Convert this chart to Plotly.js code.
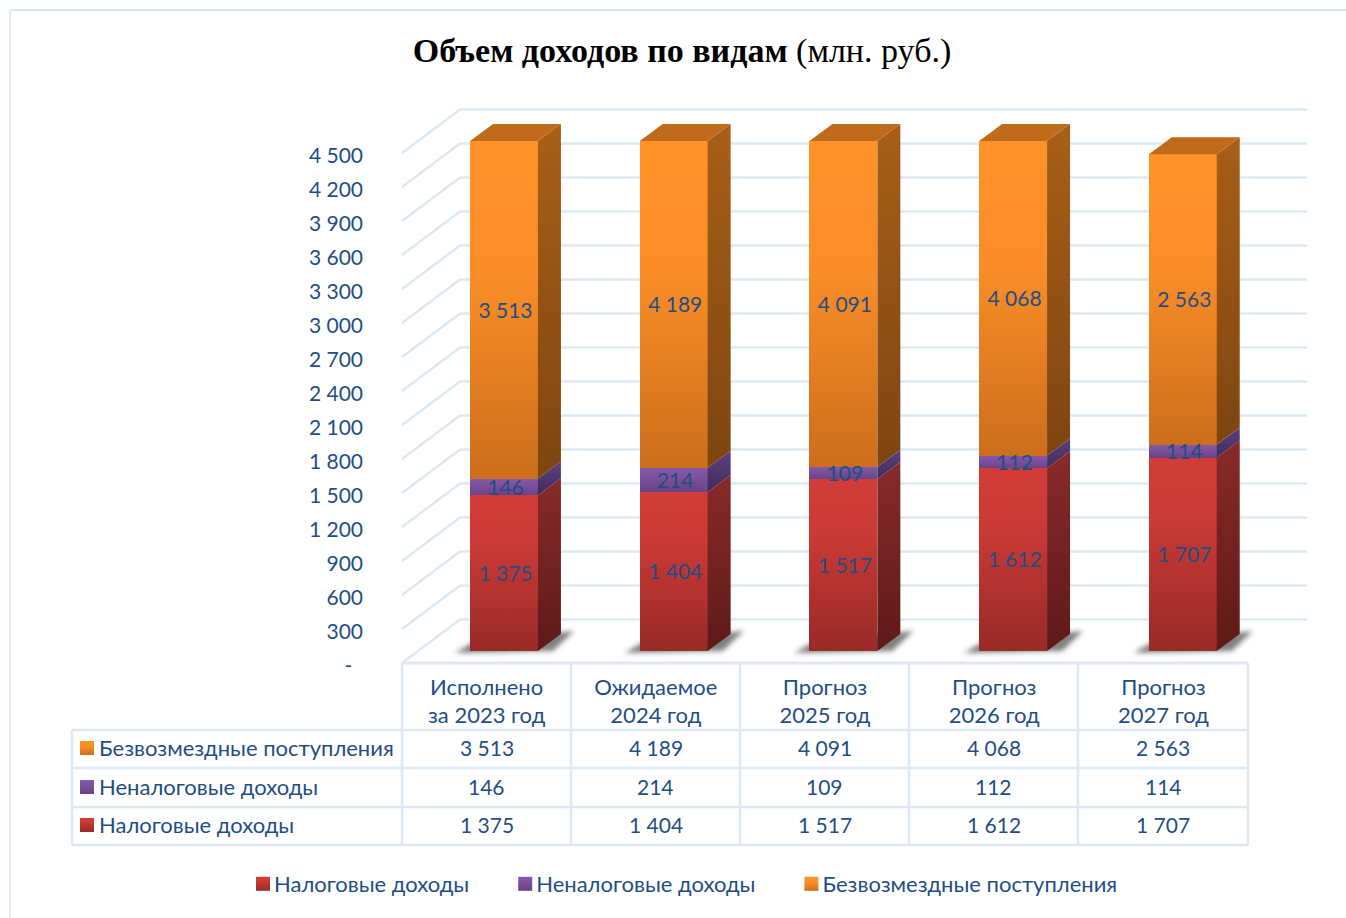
<!DOCTYPE html>
<html>
<head>
<meta charset="utf-8">
<script src="https://cdn.plot.ly/plotly-3.0.1.min.js"></script>
<style>html,body{margin:0;padding:0;background:#fff;overflow:hidden}</style>
</head>
<body>
<div id="chart" style="width:1346px;height:918px"></div>
<svg width="0" height="0" style="position:absolute"><defs id="defs">
<filter id="soft" x="-30%" y="-60%" width="160%" height="220%"><feGaussianBlur stdDeviation="2.6"/></filter>
</defs></svg>
<script>
const CATEGORIES = ['Исполнено<br>за 2023 год','Ожидаемое<br>2024 год','Прогноз<br>2025 год','Прогноз<br>2026 год','Прогноз<br>2027 год'];
const TAX = [1375,1404,1517,1612,1707];
const NONTAX = [146,214,109,112,114];
const GRANTS = [3513,4189,4091,4068,2563];
const NAME_TAX = 'Налоговые доходы';
const NAME_NONTAX = 'Неналоговые доходы';
const NAME_GRANTS = 'Безвозмездные поступления';
const Y_TICKS = [0,300,600,900,1200,1500,1800,2100,2400,2700,3000,3300,3600,3900,4200,4500];
const Y_MAX = 4500;

const W=1346,H=918;
const FONT='Lato, "Noto Sans", sans-serif', TXT='#1F4E84', GRID='#DDE8F5';
const fs=22, fn=21;
const fmt=v=>String(v).replace(/\B(?=(\d{3})+$)/g,' ');
const px=x=>x/W, py=y=>1-y/H;
// scale of the drawing
const SX=169.7, SY=510/Y_MAX, BAR_C0=504, BASE=651;
const DX=23/SX, DY=17/SY, BW=0.4;
const xr=[(402-BAR_C0)/SX,(1307-BAR_C0)/SX];
const y3r=[(BASE-663)/SY,(BASE-110)/SY];
const ofsX=p=>p/SX, ofsY=p=>p/SY;

const SERIES=[
 {name:NAME_TAX,vals:TAX,stops:[[0,'#D23C38'],[.3,'#CB3A36'],[1,'#982A28']],side:[[0,'#882A2A'],[1,'#5E1A18']]},
 {name:NAME_NONTAX,vals:NONTAX,stops:[[0,'#8759AC'],[1,'#694386']],side:[[0,'#5F4180'],[1,'#3E2A58']]},
 {name:NAME_GRANTS,vals:GRANTS,stops:[[0,'#FF9228'],[.4,'#FA8D27'],[1,'#CC6E1C']],side:[[0,'#A85F18'],[1,'#7E4510']]}
];

const traces=[];
// bars: real values, clipped by the axis maximum as in the original
SERIES.forEach(s=>traces.push({type:'bar',name:s.name,x:CATEGORIES,y:s.vals,width:BW,xaxis:'x',yaxis:'y',
  marker:{color:s.stops[0][1],line:{width:0}},hoverinfo:'skip'}));

// axis carrier for labelled front plane
traces.push({type:'scatter',mode:'markers',x:CATEGORIES,y:TAX,xaxis:'x2',yaxis:'y2',marker:{opacity:0},showlegend:false,hoverinfo:'skip'});

// depth faces and data labels
const lblX=[],lblY=[],lblT=[];
CATEGORIES.forEach((c,i)=>{
  let cum=0; const x0=i-BW/2,x1=i+BW/2;
  SERIES.forEach(s=>{
    const a=Math.min(cum,Y_MAX), b=Math.min(cum+s.vals[i],Y_MAX); cum+=s.vals[i];
    traces.push({type:'scatter',mode:'none',x:[x1,x1+DX,x1+DX,x1,x1],y:[a,a+DY,b+DY,b,a],xaxis:'x3',yaxis:'y3',fill:'toself',
      fillcolor:s.side[0][1],fillgradient:{type:'vertical',colorscale:[[0,s.side[1][1]],[1,s.side[0][1]]]},showlegend:false,hoverinfo:'skip'});
    lblX.push(i+ofsX(1.5)); lblY.push((a+b)/2-ofsY(2.5)); lblT.push(fmt(s.vals[i]));
  });
  const t=Math.min(cum,Y_MAX);
  traces.push({type:'scatter',mode:'none',x:[x0,x1,x1+DX,x0+DX,x0],y:[t,t,t+DY,t+DY,t],xaxis:'x3',yaxis:'y3',fill:'toself',fillcolor:'#C06A1B',showlegend:false,hoverinfo:'skip'});
});
traces.push({type:'scatter',mode:'text',x:lblX,y:lblY,text:lblT,textposition:'middle center',textfont:{family:FONT,size:fn,color:TXT},xaxis:'x3',yaxis:'y3',showlegend:false,hoverinfo:'skip'});

// shapes
const shapes=[], ann=[];
const line=(x0,y0,x1,y1,w,c)=>shapes.push({type:'line',xref:'paper',yref:'paper',x0:px(x0),y0:py(y0),x1:px(x1),y1:py(y1),layer:'below',line:{color:c||GRID,width:w||2.5}});
// page frame
line(10,10,1346,10,2,'#D6E3F3'); line(10,10,10,918,2,'#E1EBF7');
// walls
Y_TICKS.forEach(v=>{
  const f=663-v*SY, b=f-43.5;
  line(402,f,460,b); line(460,b,1307,b);
});
// table
const colX=[402,571,740,909,1078,1248], rowY=[730,768,807,845];
line(402,663,1248,663,3);
colX.forEach(x=>line(x,663,x,845,2.5));
line(72,730,72,845,2.5);
rowY.forEach(y=>line(72,y,1248,y,2.5));
// table rows
const ROWS=[SERIES[2],SERIES[1],SERIES[0]], rowC=[748,787,825], rowT=[747,786,824];
const gradShapes=[];
ROWS.forEach((s,r)=>{
  gradShapes.push({idx:shapes.length,stops:s.stops});
  shapes.push({type:'rect',xref:'paper',yref:'paper',x0:px(80),x1:px(94),y0:py(rowC[r]-7),y1:py(rowC[r]+7),fillcolor:s.stops[0][1],line:{width:0},layer:'above'});
  ann.push({xref:'paper',yref:'paper',x:px(97),y:py(rowT[r]),xanchor:'left',yanchor:'middle',text:s.name,showarrow:false,font:{family:FONT,size:fs,color:TXT}});
  s.vals.forEach((v,i)=>ann.push({xref:'paper',yref:'paper',x:px((colX[i]+colX[i+1])/2),y:py(rowT[r]),xanchor:'center',yanchor:'middle',text:fmt(v),showarrow:false,font:{family:FONT,size:fn,color:TXT}}));
});
// floor shadows
const shadowIdx=[];
CATEGORIES.forEach((c,i)=>{
  const l=BAR_C0+i*SX-34, r=BAR_C0+i*SX+34;
  const p=[[l-15,BASE+2],[l+5,BASE-10],[r+36,BASE-20],[r+15,BASE]];
  shadowIdx.push(shapes.length);
  shapes.push({type:'path',xref:'paper',yref:'paper',layer:'below',path:'M'+p.map(q=>px(q[0])+','+py(q[1])).join('L')+'Z',fillcolor:'rgba(50,50,50,0.62)',line:{width:0}});
});

const layout={
  width:W,height:H,margin:{l:0,r:0,t:0,b:0},paper_bgcolor:'#fff',plot_bgcolor:'rgba(0,0,0,0)',
  barmode:'stack',hovermode:false,dragmode:false,
  title:{text:'<b>Объем доходов по видам</b> (млн. руб.)',x:682/W,xanchor:'center',y:py(50.5),yanchor:'middle',font:{family:'"Liberation Serif",serif',size:34,color:'#000'}},
  xaxis:{type:'category',domain:[px(402),px(1307)],range:xr,anchor:'y',visible:false,fixedrange:true,categoryorder:'array',categoryarray:CATEGORIES},
  yaxis:{domain:[py(651),py(141)],range:[0,Y_MAX],anchor:'x',visible:false,fixedrange:true},
  xaxis2:{type:'category',domain:[px(402),px(1248)],range:[-0.5,4.5],anchor:'y2',side:'bottom',showgrid:false,zeroline:false,showline:false,ticks:'',ticklabelstandoff:6,tickangle:0,
    tickfont:{family:FONT,size:fs,color:TXT},fixedrange:true,categoryorder:'array',categoryarray:CATEGORIES},
  yaxis2:{domain:[py(665.5),py(155.5)],range:[0,Y_MAX],anchor:'x2',side:'left',showgrid:false,zeroline:false,showline:false,ticks:'',ticklabelstandoff:38,
    tickmode:'array',tickvals:Y_TICKS,ticktext:Y_TICKS.map(v=>v===0?'-\u00a0\u00a0':fmt(v)),tickfont:{family:FONT,size:fn,color:TXT},fixedrange:true},
  xaxis3:{domain:[px(402),px(1307)],range:xr,anchor:'y3',visible:false,fixedrange:true},
  yaxis3:{domain:[py(663),py(110)],range:y3r,anchor:'x3',visible:false,fixedrange:true},
  legend:{orientation:'h',x:px(212),xanchor:'left',y:py(884),yanchor:'middle',traceorder:'normal',itemwidth:52,font:{family:FONT,size:fs,color:TXT},bgcolor:'rgba(0,0,0,0)'},
  shapes:shapes,annotations:ann,showlegend:true
};

function gradient(id,stops,attrs){
  const NS='http://www.w3.org/2000/svg', g=document.createElementNS(NS,'linearGradient');
  g.id=id; Object.entries(attrs).forEach(([k,v])=>g.setAttribute(k,v));
  stops.forEach(st=>{const e=document.createElementNS(NS,'stop');e.setAttribute('offset',st[0]);e.setAttribute('stop-color',st[1]);g.appendChild(e);});
  document.getElementById('defs').appendChild(g);
  return 'url(#'+id+')';
}
const box={x1:0,y1:0,x2:0,y2:1};
Plotly.newPlot('chart',traces,layout,{displayModeBar:false,staticPlot:true}).then(gd=>{
  // vertical gradients on the bars, measured on the part left visible by the axis
  gd.querySelectorAll('.barlayer .trace.bars').forEach((tr,t)=>{
    tr.querySelectorAll('.point path').forEach((p,i)=>{
      const b=p.getBBox(), top=Math.max(b.y,0);
      const u=gradient('b'+t+'_'+i,SERIES[t].stops,{gradientUnits:'userSpaceOnUse',x1:0,x2:0,y1:top,y2:b.y+b.height});
      p.style.setProperty('fill',u);
    });
  });
  gd.querySelectorAll('.shapelayer path').forEach(p=>{
    const k=+p.getAttribute('data-index');
    const g=gradShapes.find(s=>s.idx===k);
    if(g) p.style.setProperty('fill',gradient('s'+k,g.stops,box));
    if(shadowIdx.includes(k)) p.style.setProperty('filter','url(#soft)');
  });
  // legend keys sit next to their text, as square gradient chips
  gd.querySelectorAll('.legend .traces').forEach((tr,t)=>{
    const p=tr.querySelector('.legendpoints path');
    if(!p) return;
    p.setAttribute('d','M7,7H-7V-7H7Z');
    p.style.setProperty('fill',gradient('l'+t,SERIES[t].stops,box));
    const pt=tr.querySelector('.legendpoints');
    pt.setAttribute('transform','translate(20,0)');
  });
});
</script>
</body>
</html>
